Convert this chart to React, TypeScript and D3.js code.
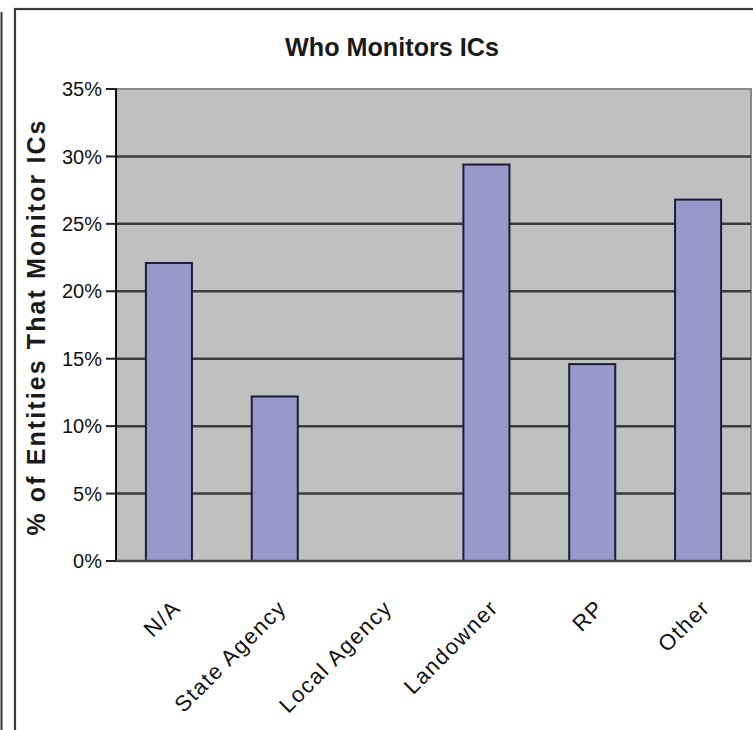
import React from "react";
import * as d3 from "d3";

const categories = ["N/A", "State Agency", "Local Agency", "Landowner", "RP", "Other"];
const values = [0.221, 0.122, 0, 0.294, 0.146, 0.268];
const yTicks = [0, 0.05, 0.1, 0.15, 0.2, 0.25, 0.3, 0.35];
const title = "Who Monitors ICs";
const yTitle = "% of Entities That Monitor ICs";

export default function App() {
  const W = 753, H = 730;
  const plot = { left: 116, right: 751, top: 89, bottom: 561 };
  const x = d3.scaleBand<string>().domain(categories).range([plot.left, plot.right]).paddingInner(0.565).paddingOuter(0.2825);
  const y = d3.scaleLinear().domain([0, 0.35]).range([plot.bottom, plot.top]);
  const fmt = d3.format(".0%");
  const font = "Arial, 'Liberation Sans', Helvetica, sans-serif";
  return (
    <svg width={W} height={H} style={{ position: "absolute", left: 0, top: 0, display: "block", background: "#fff" }} fontFamily={font}>
      {/* outer lines */}
      <line x1={1.5} x2={1.5} y1={12} y2={H} stroke="#333" strokeWidth={2} />
      <rect x={15} y={9} width={W + 10} height={H + 10} fill="#fff" stroke="#3a3a3a" strokeWidth={2.2} />
      {/* title */}
      <text x={392} y={56} textAnchor="middle" fontSize={25} fontWeight="bold" fill="#1a1a1a" textLength={214} lengthAdjust="spacingAndGlyphs">{title}</text>
      {/* y title */}
      <text transform={`translate(45, 328) rotate(-90)`} textAnchor="middle" fontSize={25} fontWeight="bold" fill="#1a1a1a" textLength={415} lengthAdjust="spacing">{yTitle}</text>
      {/* plot bg */}
      <rect x={plot.left} y={plot.top} width={plot.right - plot.left} height={plot.bottom - plot.top} fill="#c0c0c0" stroke="#8a8a8a" strokeWidth={2} />
      {/* grid */}
      {yTicks.filter(t => t > 0 && t < 0.35).map(t => (
        <line key={t} x1={plot.left} x2={plot.right} y1={y(t)} y2={y(t)} stroke="#3c3c3c" strokeWidth={2.5} />
      ))}
      {/* bars */}
      {categories.map((c, i) => values[i] > 0 ? (
        <rect key={c} x={x(c)!} y={y(values[i])} width={x.bandwidth()} height={plot.bottom - y(values[i])} fill="#9a98cb" stroke="#1c1c38" strokeWidth={2} />
      ) : null)}
      {/* axes */}
      <line x1={plot.left} x2={plot.left} y1={plot.top - 1} y2={plot.bottom} stroke="#111" strokeWidth={2} />
      <line x1={plot.left - 1} x2={plot.right} y1={plot.bottom} y2={plot.bottom} stroke="#444" strokeWidth={2.5} />
      {yTicks.map(t => (
        <g key={t}>
          <line x1={106} x2={plot.left} y1={y(t)} y2={y(t)} stroke="#222" strokeWidth={2} />
          <text x={102} y={y(t)} dy="0.36em" textAnchor="end" fontSize={20} fill="#111">{fmt(t)}</text>
        </g>
      ))}
      {categories.map(c => {
        const cx = x(c)! + x.bandwidth() / 2;
        return (
          <text key={c} transform={`translate(${cx + 2}, ${598}) rotate(-45)`} textAnchor="end" dy="0.71em" fontSize={22} letterSpacing={1.5} fill="#111">{c}</text>
        );
      })}
    </svg>
  );
}
